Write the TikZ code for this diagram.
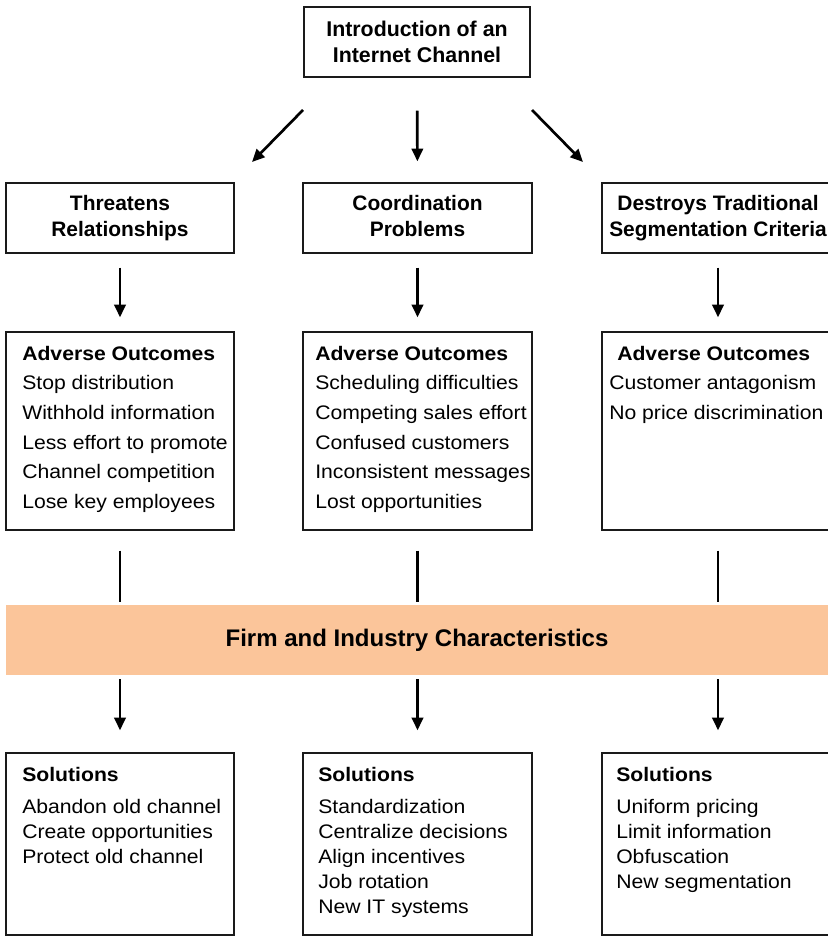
\documentclass[tikz,border=0pt]{standalone}
\usepackage{fontspec}
\setmainfont{Liberation Sans}
\newfontfamily\listfont{Liberation Sans}[FakeStretch=1.08]
\usetikzlibrary{arrows.meta,fit}
\definecolor{bandorange}{HTML}{FBC59A}
\definecolor{boxline}{HTML}{1A1A1A}

\begin{document}
\begin{tikzpicture}[x=0.75pt,y=-0.75pt,
  box/.style={draw=boxline, line width=1pt, inner sep=0pt, fill=white},
  headtext/.style={inner sep=0pt, anchor=base, align=center,
    font=\fontsize{15.7}{19.5}\selectfont\bfseries},
  listtext/.style={inner sep=0pt, anchor=base west, align=left,
    font=\listfont\fontsize{14.7}{22.3}\selectfont},
  soltext/.style={inner sep=0pt, anchor=base west, align=left,
    font=\listfont\fontsize{14.7}{18.75}\selectfont},
  arr/.style={line width=2pt, -{Triangle[length=9.5pt,width=8.5pt]}},
  rulestroke/.style={line width=2pt}
]
\useasboundingbox (0,0) rectangle (827,937);

% top box (text nodes are anchored at the baseline of their last line)
\node[box, fit={(304,7)(530,77)}] (intro) {};
\node[headtext, font=\fontsize{16}{19.5}\selectfont\bfseries] (introt) at (417,63)
  {Introduction of an\\Internet Channel};

% second row: the three effects
\node[box, fit={(6,183)(234,253)}] (thr) {};
\node[box, fit={(303,183)(532,253)}] (coo) {};
\node[box, fit={(602,183)(834,253)}] (des) {};
\node[headtext] (thrt) at (120,237) {Threatens\\Relationships};
\node[headtext] (coot) at (417.5,237) {Coordination\\Problems};
\node[headtext] (dest) at (718,237) {Destroys Traditional\\Segmentation Criteria};

% third row: adverse outcomes
\node[box, fit={(6,332)(234,530)}] (adv1) {};
\node[box, fit={(303,332)(532,530)}] (adv2) {};
\node[box, fit={(602,332)(834,530)}] (adv3) {};
\node[listtext] (adv1t) at (22,508.7) {\textbf{Adverse Outcomes}\\Stop distribution\\Withhold information\\Less effort to promote\\Channel competition\\Lose key employees};
\node[listtext] (adv2t) at (315,508.7) {\textbf{Adverse Outcomes}\\Scheduling difficulties\\Competing sales effort\\Confused customers\\Inconsistent messages\\Lost opportunities};
\node[listtext] (adv3t) at (609,419.5) {\hspace*{6pt}\textbf{Adverse Outcomes}\\Customer antagonism\\No price discrimination};

% band
\node[fit={(6,605)(840,675)}, fill=bandorange, inner sep=0pt] (band) {};
\node[inner sep=0pt, font=\fontsize{18}{20}\selectfont\bfseries] (bandt) at (417,640) {Firm and Industry Characteristics};

% bottom row: solutions
\node[box, fit={(6,753)(234,935)}] (sol1) {};
\node[box, fit={(303,753)(532,935)}] (sol2) {};
\node[box, fit={(602,753)(834,935)}] (sol3) {};
\node[soltext] (sol1t) at (22,863) {\textbf{Solutions}\\[5.25pt]Abandon old channel\\Create opportunities\\Protect old channel};
\node[soltext] (sol2t) at (318,913) {\textbf{Solutions}\\[5.25pt]Standardization\\Centralize decisions\\Align incentives\\Job rotation\\New IT systems};
\node[soltext] (sol3t) at (616,888) {\textbf{Solutions}\\[5.25pt]Uniform pricing\\Limit information\\Obfuscation\\New segmentation};

% arrows out of the top box
\coordinate (d1a) at (303,110);
\coordinate (d1b) at (252,162);
\coordinate (d3a) at (532,110);
\coordinate (d3b) at (583,162);
\draw[arr] (d1a) -- (d1b);
\draw[arr, shorten <=24.75pt, shorten >=15.75pt, xshift=2.25pt] (intro.south) -- (coo.north);
\draw[arr] (d3a) -- (d3b);

% effects to outcomes
\draw[arr, shorten <=10.5pt, shorten >=10.5pt] (thr.south) -- (adv1.north);
\draw[arr, shorten <=10.5pt, shorten >=10.5pt, xshift=2.25pt] (coo.south) -- (adv2.north);
\draw[arr, shorten <=10.5pt, shorten >=10.5pt] (des.south) -- (adv3.north);

% outcomes into the band
\draw[rulestroke, shorten <=15pt, shorten >=2.25pt] (adv1.south) -- (adv1.south |- band.north);
\draw[rulestroke, shorten <=15pt, shorten >=2.25pt, xshift=3pt] (adv2.south) -- (adv2.south |- band.north);
\draw[rulestroke, shorten <=15pt, shorten >=2.25pt] (adv3.south) -- (adv3.south |- band.north);

% band to solutions
\draw[arr, shorten <=3pt, shorten >=16.5pt] (sol1.north |- band.south) -- (sol1.north);
\draw[arr, shorten <=3pt, shorten >=16.5pt, xshift=3pt] (sol2.north |- band.south) -- (sol2.north);
\draw[arr, shorten <=3pt, shorten >=16.5pt] (sol3.north |- band.south) -- (sol3.north);
\end{tikzpicture}
\end{document}
